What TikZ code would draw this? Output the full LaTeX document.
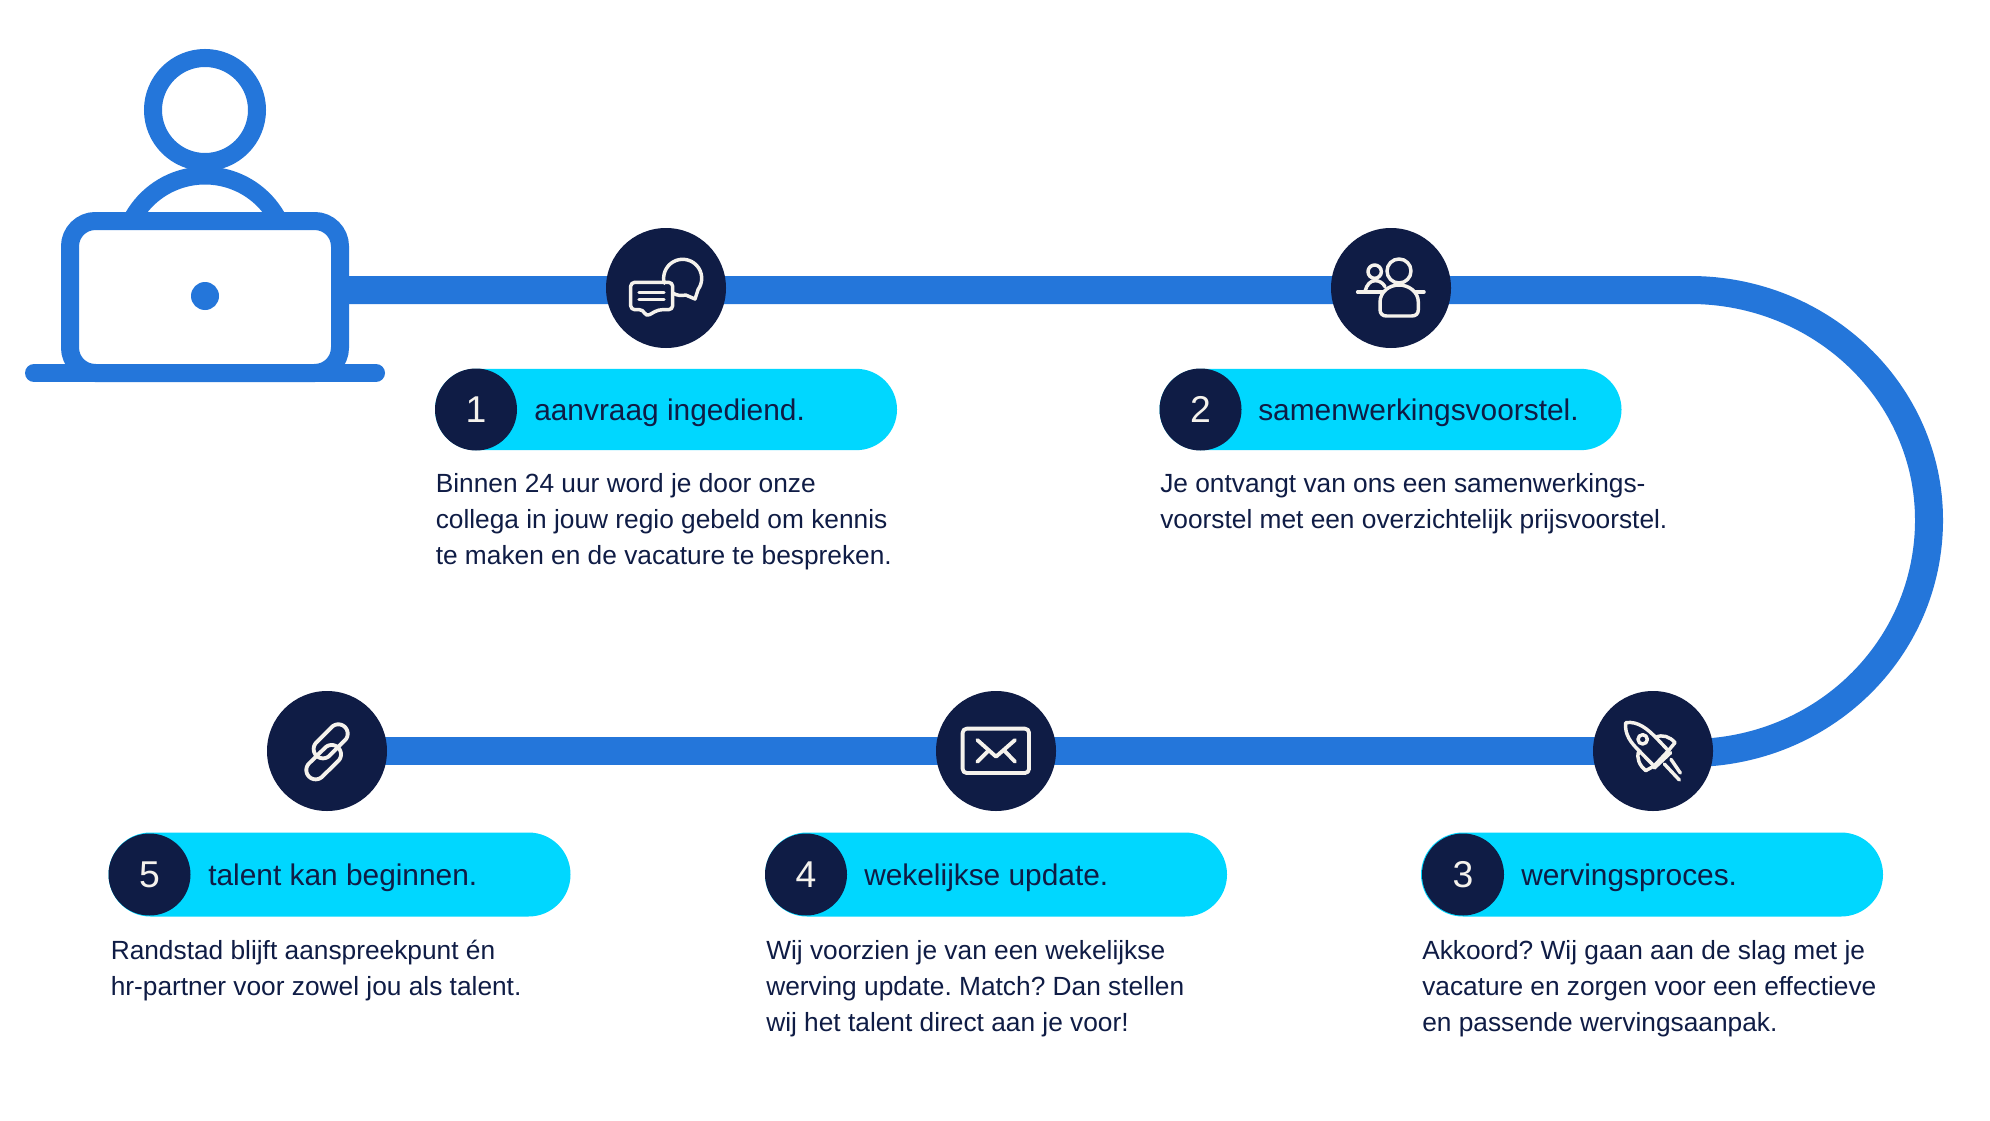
\documentclass[tikz,border=0pt]{standalone}
\usepackage{fontspec}
\setmainfont{Liberation Sans}
\usetikzlibrary{backgrounds,shapes.misc}
\definecolor{blueline}{HTML}{2476DA}
\definecolor{cyanpill}{HTML}{00D7FF}
\definecolor{navy}{HTML}{0F1C45}
\definecolor{offwhite}{HTML}{F5F2EC}
\tikzset{
  iconbase/.style={circle,fill=navy,minimum size=90pt,inner sep=0pt,outer sep=0pt},
  bar/.style={draw=blueline,line width=21pt},
  pillbox/.style={rounded rectangle,fill=cyanpill,minimum width=346.5pt,minimum height=63pt,inner sep=0pt,outer sep=0pt},
  badge/.style={circle,fill=navy,minimum size=61.5pt,inner sep=0pt,outer sep=0pt,text=offwhite,font=\fontsize{28}{30}\selectfont},
  titletext/.style={anchor=base west,inner sep=0pt,text=navy,font=\fontsize{22.4}{26}\selectfont},
  bodytext/.style={anchor=north west,inner sep=0pt,align=left,text=navy,font=\frenchspacing\fontsize{19.72}{27}\selectfont},
  person/.style={draw=blueline,line width=13.5pt},
  ico/.style={draw=offwhite,line width=2.6pt,line cap=round,line join=round},
  icob/.style={ico,line width=2.9pt},
}
\begin{document}
\begin{tikzpicture}[x=0.75pt,y=-0.75pt]
\useasboundingbox (0,0) rectangle (1990,1120);
\begin{scope}[on background layer]
  \fill[white] (0,0) rectangle (1990,1120);
\end{scope}

% laptop person
\draw[person] (205,110) circle[radius=52];
\draw[person] plot[domain=206:334,samples=40] ({205+82.5*cos(\x)},{258+82.5*sin(\x)});
\node[draw=blueline,line width=13.5pt,rounded corners=19pt,minimum width=202.5pt,minimum height=114pt,inner sep=0pt,outer sep=0pt,fill=white] (laptop) at (205,297) {};
\draw[person,line cap=round] (34,373) -- (376,373);
\fill[blueline] (205,296) circle[radius=14];

% step icons
\node[iconbase] (ic1) at (666,288) {};
\node[iconbase] (ic2) at (1391,288) {};
\node[iconbase] (ic3) at (1653,751) {};
\node[iconbase] (ic4) at (996,751) {};
\node[iconbase] (ic5) at (327,751) {};
\coordinate (bendtop) at (1690,290);
\coordinate (bendright) at (1929,520);
\coordinate (bendbottom) at (1690,753);

\begin{scope}[on background layer]
  \draw[bar] (laptop.east |- bendtop) -- (ic1.center |- bendtop) -- (ic2.center |- bendtop) -- (bendtop)
     .. controls (1822,290) and (1929,393) .. (bendright)
     .. controls (1929,650) and (1822,753) .. (bendbottom) -- (ic3.center);
  \draw[bar] (ic3.center) -- (ic4.center) -- (ic5.center);
\end{scope}

% icon 1: chat
\begin{scope}[shift={(590,215)},x=0.25pt,y=-0.25pt]
  \draw[ico] plot[domain=165:395,samples=50] ({278+57*cos(\x)},{190+57*sin(\x)}) -- (315,252) -- (287,240) .. controls (275,243) and (262,242) .. (250,235);
  \draw[ico,rounded corners=3pt] (122,202) -- (248,202) -- (248,284) -- (205,284) -- (168,305) -- (160,284) -- (122,284) -- cycle;
  \draw[ico] (147,232) -- (222,232);
  \draw[ico] (147,253) -- (222,253);
\end{scope}

% icon 2: people
\begin{scope}[shift={(1320,215)},x=0.25pt,y=-0.25pt]
  \draw[ico] (237,168) circle[radius=36];
  \draw[ico] (164,170) circle[radius=20];
  \draw[ico] (113,231) -- (312,231);
  \draw[ico] (135,229) .. controls (140,208) and (152,197) .. (165,197) .. controls (178,197) and (188,203) .. (195,215);
  \draw[ico,fill=navy] (180,262) .. controls (180,230) and (208,210) .. (237,210) .. controls (266,210) and (295,230) .. (295,262) -- (295,283) .. controls (295,296) and (288,303) .. (275,303) -- (200,303) .. controls (187,303) and (180,296) .. (180,283) -- cycle;
\end{scope}

% icon 3: rocket
\begin{scope}[shift={(1585,680)},x=0.25pt,y=-0.25pt]
  \draw[ico] (122,128) .. controls (160,122) and (190,150) .. (212,172) -- (250,212) -- (207,258) -- (160,210) .. controls (140,190) and (118,165) .. (122,128) -- cycle;
  \draw[ico] (212,172) .. controls (232,162) and (255,170) .. (270,188) -- (250,212);
  \draw[ico] (162,212) .. controls (152,235) and (165,258) .. (182,272) -- (207,258);
  \draw[ico] (257,218) -- (208,264);
  \draw[ico] (173,178) circle[radius=14];
  \draw[ico] (238,252) -- (283,300);
  \draw[ico] (258,238) -- (286,279);
\end{scope}

% icon 4: envelope
\begin{scope}[shift={(925,680)},x=0.25pt,y=-0.25pt]
  \draw[icob,rounded corners=3pt] (113,146) rectangle (312,279);
  \draw[icob] (157,180) -- (213,230) -- (270,180);
  \draw[icob] (157,245) -- (190,212);
  \draw[icob] (270,245) -- (238,212);
\end{scope}

% icon 5: chain
\begin{scope}[shift={(250,680)},x=0.25pt,y=-0.25pt]
  \draw[icob] plot[domain=-135:45,samples=30] ({265+28*cos(\x)},{161+28*sin(\x)}) -- plot[domain=45:225,samples=30] ({219+28*cos(\x)},{207+28*sin(\x)}) -- cycle;
  \draw[icob] plot[domain=-135:45,samples=30] ({245+28*cos(\x)},{223+28*sin(\x)}) -- plot[domain=45:225,samples=30] ({197+28*cos(\x)},{270+28*sin(\x)}) -- cycle;
\end{scope}

% pills
\node[pillbox,minimum height=61pt] (p1) at (666,409.5) {};
\node[badge] (n1) at (476,409.5) {1};
\node[titletext] (t1) at (534,420) {aanvraag ingediend.};
\node[bodytext] (b1) at (435.5,473) {Binnen 24 uur word je door onze\\collega in jouw regio gebeld om kennis\\te maken en de vacature te bespreken.};

\node[pillbox,minimum height=61pt] (p2) at (1390.5,409.5) {};
\node[badge] (n2) at (1200.5,409.5) {2};
\node[titletext] (t2) at (1258,420) {samenwerkingsvoorstel.};
\node[bodytext] (b2) at (1160,473) {Je ontvangt van ons een samenwerkings-\\voorstel met een overzichtelijk prijsvoorstel.};

\node[pillbox] (p3) at (1652,874.5) {};
\node[badge] (n3) at (1463,874.5) {3};
\node[titletext] (t3) at (1521,885) {wervingsproces.};
\node[bodytext] (b3) at (1422,940) {Akkoord? Wij gaan aan de slag met je\\vacature en zorgen voor een effectieve\\en passende wervingsaanpak.};

\node[pillbox] (p4) at (996,874.5) {};
\node[badge] (n4) at (806,874.5) {4};
\node[titletext] (t4) at (864,885) {wekelijkse update.};
\node[bodytext] (b4) at (766,940) {Wij voorzien je van een wekelijkse\\werving update. Match? Dan stellen\\wij het talent direct aan je voor!};

\node[pillbox] (p5) at (339.5,874.5) {};
\node[badge] (n5) at (149.5,874.5) {5};
\node[titletext] (t5) at (208,885) {talent kan beginnen.};
\node[bodytext] (b5) at (110.5,940) {Randstad blijft aanspreekpunt én\\hr-partner voor zowel jou als talent.};
\end{tikzpicture}
\end{document}
